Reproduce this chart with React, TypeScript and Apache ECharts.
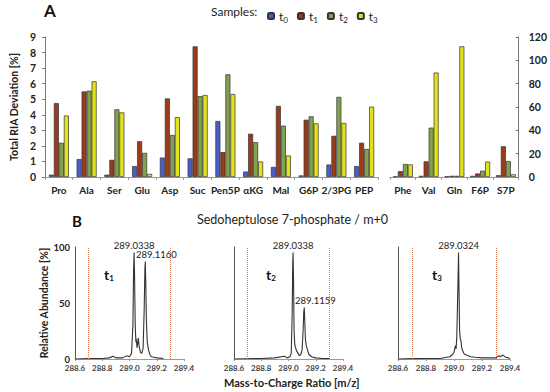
import React, { useEffect, useRef } from "react";
import * as echarts from "echarts";

const seriesNames = ["t0", "t1", "t2", "t3"];
const seriesColors = ["#4a5ec9", "#9c3a1c", "#83a04d", "#e2e21c"];

const categoriesA = ["Pro", "Ala", "Ser", "Glu", "Asp", "Suc", "Pen5P", "αKG", "Mal", "G6P", "2/3PG", "PEP"];
const t0A = [0.15, 1.15, 0.15, 0.7, 1.25, 1.2, 3.6, 0.35, 0.65, 0.1, 0.8, 0.7];
const t1A = [4.75, 5.5, 1.1, 2.3, 5.05, 8.4, 1.6, 2.78, 4.57, 3.68, 2.65, 2.2];
const t2A = [2.2, 5.55, 4.35, 1.55, 2.7, 5.2, 6.6, 2.24, 3.3, 3.9, 5.15, 1.8];
const t3A = [3.95, 6.15, 4.15, 0.2, 3.85, 5.27, 5.33, 1.0, 1.38, 3.45, 3.47, 4.52];

const categoriesB = ["Phe", "Val", "Gln", "F6P", "S7P"];
const t0B = [0.5, 1.0, 0.5, 1.0, 1.5];
const t1B = [5.0, 13.4, 1.0, 3.0, 26.3];
const t2B = [11.1, 42.3, 1.0, 5.4, 13.7];
const t3B = [10.8, 89.5, 112, 13.2, 2.3];

const leftTicks = [0, 9, 1];
const rightTicks = [0, 120, 20];
const mzRange = [288.6, 289.4, 0.2];
const windowLines = [288.7, 289.3];

const spectrumT1: [number, number][] = [
  [288.6, 0], [288.7, 0.5], [288.8, 0.5], [288.85, 1], [288.88, 2.5], [288.9, 1], [288.95, 1],
  [288.98, 3], [289.0, 2], [289.015, 5], [289.025, 30], [289.03, 80], [289.0338, 95], [289.037, 75],
  [289.042, 30], [289.047, 15], [289.05, 18], [289.055, 10], [289.06, 14], [289.065, 19], [289.07, 12],
  [289.08, 6], [289.09, 5], [289.1, 10], [289.108, 45], [289.113, 80], [289.116, 87], [289.119, 70],
  [289.124, 35], [289.13, 15], [289.14, 8], [289.15, 4], [289.16, 2], [289.18, 1.5], [289.2, 1],
  [289.25, 0.5],
];
const spectrumT2: [number, number][] = [
  [288.6, 0], [288.8, 0.5], [288.9, 1], [288.97, 2.5], [288.99, 1], [289.01, 2], [289.02, 5],
  [289.027, 40], [289.031, 85], [289.0338, 95], [289.037, 70], [289.041, 25], [289.046, 13],
  [289.052, 10], [289.06, 7], [289.07, 5], [289.08, 3], [289.09, 4], [289.1, 8], [289.107, 25],
  [289.112, 42], [289.1159, 46], [289.119, 35], [289.124, 18], [289.13, 12], [289.14, 8], [289.15, 4],
  [289.17, 2], [289.2, 1], [289.25, 0.5], [289.3, 0.5],
];
const spectrumT3: [number, number][] = [
  [288.6, 0], [288.7, 0.3], [288.8, 0.5], [288.9, 0.5], [288.97, 2], [288.99, 4], [289.0, 6],
  [289.01, 12], [289.015, 9], [289.02, 20], [289.027, 60], [289.0324, 95], [289.036, 60], [289.04, 25],
  [289.045, 18], [289.05, 16], [289.055, 10], [289.06, 8], [289.07, 5], [289.08, 4], [289.1, 3],
  [289.12, 2], [289.15, 1.5], [289.2, 1], [289.3, 1], [289.32, 3], [289.33, 2], [289.35, 3.5],
  [289.37, 1.5], [289.4, 0.5],
];
const peaksT1: [number, number][] = [[289.0338, 95], [289.116, 87]];
const peaksT2: [number, number][] = [[289.0338, 95], [289.1159, 46]];
const peaksT3: [number, number][] = [[289.0324, 95]];
const panelNames = ["1", "2", "3"];

const FONT = "Lato";
const TXT = "#222";

export default function App() {
  const ref = useRef<HTMLDivElement>(null);
  useEffect(() => {
    if (!ref.current) return;
    const chart = echarts.init(ref.current, null, { renderer: "svg" });

    const barData = [
      [t0A, t1A, t2A, t3A],
      [t0B, t1B, t2B, t3B],
    ];
    const barSeries: any[] = [];
    for (let g = 0; g < 2; g++) {
      for (let i = 0; i < 4; i++) {
        barSeries.push({
          type: "bar",
          name: seriesNames[i],
          xAxisIndex: g,
          yAxisIndex: g,
          data: barData[g][i],
          barWidth: 5,
          barGap: "0%",
          itemStyle: { color: seriesColors[i], borderColor: "#333", borderWidth: 0.7 },
        });
      }
    }

    const spectra = [spectrumT1, spectrumT2, spectrumT3];
    const peaks = [peaksT1, peaksT2, peaksT3];
    const specLefts = [75, 234, 398];
    const specWidths = [109, 109, 112];
    const secondaryOffset = [11, 0];

    const specSeries: any[] = spectra.map((d, k) => ({
      type: "line",
      xAxisIndex: 2 + k,
      yAxisIndex: 2 + k,
      data: d,
      showSymbol: false,
      symbol: "none",
      lineStyle: { color: "#333", width: 1.1 },
      markLine: {
        silent: true,
        symbol: "none",
        label: { show: false },
        lineStyle: { color: "#d9774f", type: "dotted", width: 1 },
        data: windowLines.map((x) => ({ xAxis: x })),
      },
      markPoint: {
        symbol: "circle",
        symbolSize: 0,
        data: peaks[k].map((p, j) => ({
          coord: p,
          value: p[0].toFixed(4),
          label: { offset: j > 0 ? secondaryOffset : [0, 0] },
        })),
        label: {
          show: true,
          position: "top",
          distance: 2,
          formatter: (p: any) => p.value,
          fontFamily: FONT,
          fontSize: 9.5,
          color: TXT,
        },
      },
    }));

    const grids: any[] = [
      { left: 38, top: 37, width: 340, height: 140 },
      { left: 390, top: 37, width: 129, height: 140 },
      ...specLefts.map((l, k) => ({ left: l, top: 247, width: specWidths[k], height: 112 })),
    ];

    const catAxis = (cats: string[], gi: number) => ({
      type: "category",
      gridIndex: gi,
      data: cats,
      axisLine: { lineStyle: { color: "#999" } },
      axisTick: { show: true, interval: 0, length: 3, lineStyle: { color: "#999" } },
      axisLabel: { interval: 0, fontFamily: FONT, fontWeight: "bold", fontSize: 10, color: TXT, margin: 8 },
    });

    const specX = (gi: number) => ({
      type: "value",
      gridIndex: gi,
      min: mzRange[0],
      max: mzRange[1],
      interval: mzRange[2],
      axisLine: { show: true, onZero: false, lineStyle: { color: "#999" } },
      axisTick: { show: true, length: 2, lineStyle: { color: "#999" } },
      splitLine: { show: false },
      axisLabel: {
        fontFamily: FONT,
        fontSize: 8,
        fontWeight: "bold",
        color: "#444",
        margin: 5,
        formatter: (v: number) => v.toFixed(1),
      },
    });
    const specY = (gi: number, labels: boolean) => ({
      type: "value",
      gridIndex: gi,
      min: 0,
      max: 100,
      interval: 50,
      axisLine: { show: true, lineStyle: { color: "#555" } },
      axisTick: { show: false },
      splitLine: { show: false },
      axisLabel: { show: labels, fontFamily: FONT, fontSize: 9.5, fontWeight: "bold", color: TXT, margin: 5 },
      name: labels ? "Relative Abundance [%]" : "",
      nameLocation: "middle",
      nameGap: 24,
      nameTextStyle: { fontFamily: FONT, fontSize: 10.5, fontWeight: "bold", color: TXT },
    });

    chart.setOption({
      animation: false,
      textStyle: { fontFamily: FONT },
      grid: grids,
      legend: {
        left: 262,
        top: 5,
        itemWidth: 6,
        itemHeight: 6,
        itemGap: 9,
        data: seriesNames,
        formatter: (name: string) => `{a|t}{b|${name.slice(1)}}`,
        textStyle: {
          fontFamily: FONT,
          color: TXT,
          rich: {
            a: { fontSize: 12, fontFamily: FONT, color: TXT, lineHeight: 16, verticalAlign: "middle" },
            b: { fontSize: 8, fontFamily: FONT, color: TXT, lineHeight: 16, verticalAlign: "bottom" },
          },
        },
      },
      xAxis: [catAxis(categoriesA, 0), catAxis(categoriesB, 1), specX(2), specX(3), specX(4)],
      yAxis: [
        {
          type: "value",
          gridIndex: 0,
          min: leftTicks[0],
          max: leftTicks[1],
          interval: leftTicks[2],
          axisLine: { show: true, lineStyle: { color: "#777" } },
          axisTick: { show: true, length: 3, lineStyle: { color: "#777" } },
          splitLine: { show: false },
          axisLabel: { fontFamily: FONT, fontWeight: "bold", fontSize: 10.5, color: TXT, margin: 9 },
          name: "Total RIA Deviation [%]",
          nameLocation: "middle",
          nameGap: 24,
          nameTextStyle: { fontFamily: FONT, fontWeight: "bold", fontSize: 10.5, color: TXT },
        },
        {
          type: "value",
          gridIndex: 1,
          position: "right",
          min: rightTicks[0],
          max: rightTicks[1],
          interval: rightTicks[2],
          axisLine: { show: true, lineStyle: { color: "#777" } },
          axisTick: { show: true, inside: true, length: 3, lineStyle: { color: "#777" } },
          splitLine: { show: false },
          axisLabel: { fontFamily: FONT, fontWeight: "bold", fontSize: 10.5, color: TXT, margin: 10 },
        },
        specY(2, true),
        specY(3, false),
        specY(4, false),
      ],
      series: [...barSeries, ...specSeries],
      graphic: [
        { type: "text", left: 44, top: 2, style: { text: "A", font: `bold 17px ${FONT}`, fill: "#111" } },
        { type: "text", left: 211, top: 5, style: { text: "Samples:", font: `12px ${FONT}`, fill: TXT } },
        { type: "text", left: 72, top: 213, style: { text: "B", font: `bold 15px ${FONT}`, fill: "#111" } },
        {
          type: "text",
          left: 197,
          top: 213,
          style: { text: "Sedoheptulose 7-phosphate / m+0", font: `12.5px ${FONT}`, fill: TXT },
        },
        {
          type: "text",
          left: 224,
          top: 377,
          style: { text: "Mass-to-Charge Ratio [m/z]", font: `bold 11px ${FONT}`, fill: TXT },
        },
        ...panelNames.map((n, k) => ({
          type: "text",
          left: [104, 266, 432][k],
          top: 267,
          style: {
            text: `{a|t}{b|${n}}`,
            rich: {
              a: { font: `bold 14px ${FONT}`, fill: "#111", lineHeight: 16, verticalAlign: "middle" },
              b: { font: `bold 8px ${FONT}`, fill: "#111", lineHeight: 16, verticalAlign: "bottom" },
            },
          },
        })),
      ],
    });
    return () => chart.dispose();
  }, []);
  return <div ref={ref} style={{ position: "fixed", left: 0, top: 0, width: 550, height: 392, background: "#fff" }} />;
}
